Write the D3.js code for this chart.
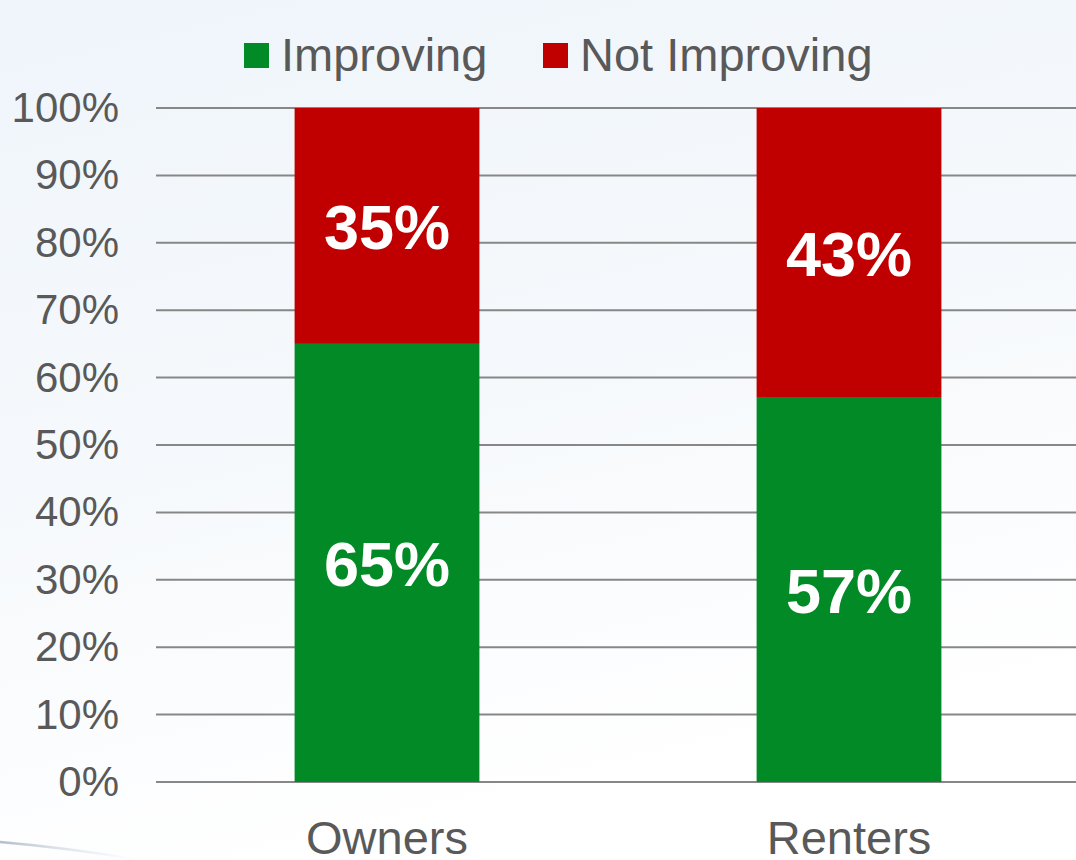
<!DOCTYPE html>
<html>
<head>
<meta charset="utf-8">
<script src="https://cdn.jsdelivr.net/npm/d3@7"></script>
<style>
  body { margin: 0; background: #fff; }
  svg { display: block; font-family: "Liberation Sans", Arial, sans-serif; }
</style>
</head>
<body>
<div id="wrapper"></div>
<script>
// DATA
const categories = ["Owners", "Renters"];
const seriesNames = ["Improving", "Not Improving"];
const improving = [65, 57];
const notImproving = [35, 43];
const yTicks = [0, 10, 20, 30, 40, 50, 60, 70, 80, 90, 100];
const colors = ["#028a26", "#c00000"];

const rows = categories.map((c, i) => ({
  category: c,
  "Improving": improving[i],
  "Not Improving": notImproving[i]
}));

const width = 1076, height = 860;
const margin = { top: 108, right: -4, bottom: 78, left: 156 };

const svg = d3.select("#wrapper")
  .append("svg")
  .attr("width", width)
  .attr("height", height);

// BACKGROUND
const defs = svg.append("defs");
const bg = defs.append("linearGradient")
  .attr("id", "bg")
  .attr("x1", "0").attr("y1", "0")
  .attr("x2", "0.3").attr("y2", "1");
bg.append("stop").attr("offset", "0%").attr("stop-color", "#eff5fb");
bg.append("stop").attr("offset", "55%").attr("stop-color", "#f6f9fc");
bg.append("stop").attr("offset", "100%").attr("stop-color", "#ffffff");

const swoosh = defs.append("linearGradient").attr("id", "swoosh");
swoosh.append("stop").attr("offset", "0%").attr("stop-color", "#a9b7c6").attr("stop-opacity", 0.9);
swoosh.append("stop").attr("offset", "100%").attr("stop-color", "#d7e0ea").attr("stop-opacity", 0);

svg.append("rect")
  .attr("width", width)
  .attr("height", height)
  .attr("fill", "url(#bg)");

svg.append("path")
  .attr("d", "M0,842 Q70,848 140,860")
  .attr("fill", "none")
  .attr("stroke", "url(#swoosh)")
  .attr("stroke-width", 2.5);

// SCALES
const x = d3.scaleBand()
  .domain(categories)
  .range([margin.left, width - margin.right])
  .padding(0);

const barWidth = x.bandwidth() * 0.4;

const y = d3.scaleLinear()
  .domain([0, 100])
  .range([height - margin.bottom, margin.top]);

const color = d3.scaleOrdinal().domain(seriesNames).range(colors);

// GRIDLINES
svg.append("g")
  .selectAll("line")
  .data(yTicks)
  .join("line")
  .attr("x1", margin.left)
  .attr("x2", width)
  .attr("y1", d => y(d))
  .attr("y2", d => y(d))
  .attr("stroke", "#878787")
  .attr("stroke-width", 2);

// Y AXIS
const yAxis = svg.append("g")
  .attr("transform", `translate(${margin.left},0)`)
  .call(d3.axisLeft(y).tickValues(yTicks).tickFormat(d => d + "%").tickSize(0).tickPadding(37));
yAxis.select(".domain").remove();
yAxis.selectAll("text")
  .attr("font-size", 42)
  .attr("font-family", "Liberation Sans, Arial, sans-serif")
  .attr("fill", "#595959");

// X AXIS
const xAxis = svg.append("g")
  .attr("transform", `translate(0,${y(0)})`)
  .call(d3.axisBottom(x).tickSize(0).tickPadding(0));
xAxis.select(".domain").remove();
xAxis.selectAll("text")
  .attr("dy", null)
  .attr("y", 72)
  .attr("font-size", 47)
  .attr("font-family", "Liberation Sans, Arial, sans-serif")
  .attr("fill", "#595959");

// BARS
const stacked = d3.stack().keys(seriesNames)(rows);

const layer = svg.append("g")
  .selectAll("g")
  .data(stacked)
  .join("g")
  .attr("fill", d => color(d.key));

layer.selectAll("rect")
  .data(d => d)
  .join("rect")
  .attr("x", d => x(d.data.category) + (x.bandwidth() - barWidth) / 2)
  .attr("width", barWidth)
  .attr("y", d => y(d[1]))
  .attr("height", d => y(d[0]) - y(d[1]));

layer.selectAll("text")
  .data(d => d)
  .join("text")
  .attr("x", d => x(d.data.category) + x.bandwidth() / 2)
  .attr("y", d => (y(d[0]) + y(d[1])) / 2)
  .attr("dy", "0.36em")
  .attr("text-anchor", "middle")
  .attr("font-size", 63)
  .attr("font-weight", "bold")
  .attr("fill", "#ffffff")
  .text(d => (d[1] - d[0]) + "%");

// LEGEND
const legendX = [244, 543];
const legend = svg.append("g")
  .selectAll("g")
  .data(seriesNames)
  .join("g")
  .attr("transform", (d, i) => `translate(${legendX[i]},43)`);

legend.append("rect")
  .attr("width", 25)
  .attr("height", 25)
  .attr("fill", d => color(d));

legend.append("text")
  .attr("x", 37)
  .attr("y", 28)
  .attr("font-size", 47)
  .attr("fill", "#595959")
  .text(d => d);
</script>
</body>
</html>
